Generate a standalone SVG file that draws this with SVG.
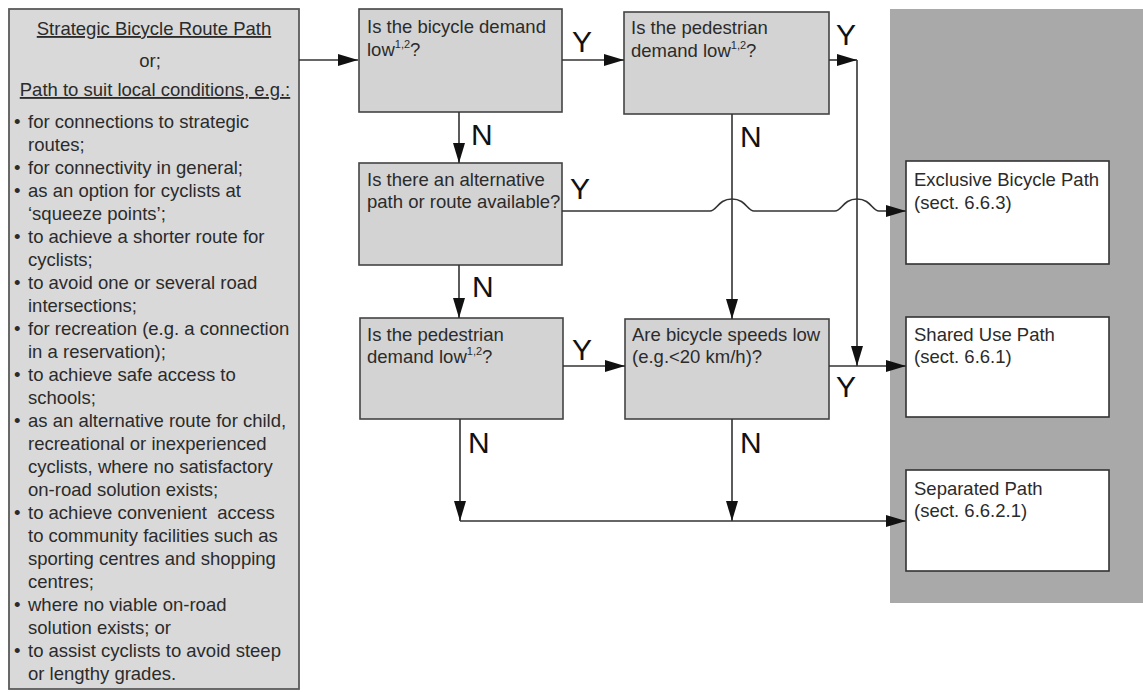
<svg xmlns="http://www.w3.org/2000/svg" width="1143" height="692" viewBox="0 0 1143 692">
<style>
.t{font-family:"Liberation Sans",Arial,Helvetica,sans-serif;font-size:18.5px;fill:#2b2b2b}
.yn{font-family:"Liberation Sans",Arial,Helvetica,sans-serif;font-size:30px;fill:#111}
.sup{font-size:11px}
.src{fill:#d9d9d9;stroke:#5a5a5a;stroke-width:1.8}
.dec{fill:#d3d3d3;stroke:#444;stroke-width:1.6}
.out{fill:#ffffff;stroke:#333;stroke-width:1.6}
.c{fill:none;stroke:#333;stroke-width:1.6}
.ul{text-decoration:underline}
</style>
<defs>
<marker id="ah" markerUnits="userSpaceOnUse" markerWidth="20" markerHeight="12" refX="20" refY="6" orient="auto">
<path d="M0,0 L20,6 L0,12 Z" fill="#111"/>
</marker>
</defs>
<rect width="1143" height="692" fill="#ffffff"/>
<rect id="panel" x="890" y="9" width="253" height="594" fill="#a9a9a9"/>

<g id="source">
<rect class="src" x="9" y="9" width="290" height="680"/>
<text class="t ul" x="154" y="35" text-anchor="middle">Strategic Bicycle Route Path</text>
<text class="t" x="150" y="67" text-anchor="middle">or;</text>
<text class="t ul" x="155" y="96" text-anchor="middle">Path to suit local conditions, e.g.:</text>
<g class="t">
<text x="14" y="128">•</text><text x="28" y="128">for connections to strategic</text>
<text x="28" y="151">routes;</text>
<text x="14" y="174">•</text><text x="28" y="174">for connectivity in general;</text>
<text x="14" y="197">•</text><text x="28" y="197">as an option for cyclists at</text>
<text x="28" y="220">‘squeeze points’;</text>
<text x="14" y="243">•</text><text x="28" y="243">to achieve a shorter route for</text>
<text x="28" y="266">cyclists;</text>
<text x="14" y="289">•</text><text x="28" y="289">to avoid one or several road</text>
<text x="28" y="312">intersections;</text>
<text x="14" y="335">•</text><text x="28" y="335">for recreation (e.g. a connection</text>
<text x="28" y="358">in a reservation);</text>
<text x="14" y="381">•</text><text x="28" y="381">to achieve safe access to</text>
<text x="28" y="404">schools;</text>
<text x="14" y="427">•</text><text x="28" y="427">as an alternative route for child,</text>
<text x="28" y="450">recreational or inexperienced</text>
<text x="28" y="473">cyclists, where no satisfactory</text>
<text x="28" y="496">on-road solution exists;</text>
<text x="14" y="519">•</text><text x="28" y="519" xml:space="preserve">to achieve convenient  access</text>
<text x="28" y="542">to community facilities such as</text>
<text x="28" y="565">sporting centres and shopping</text>
<text x="28" y="588">centres;</text>
<text x="14" y="611">•</text><text x="28" y="611">where no viable on-road</text>
<text x="28" y="634">solution exists; or</text>
<text x="14" y="657">•</text><text x="28" y="657">to assist cyclists to avoid steep</text>
<text x="28" y="680">or lengthy grades.</text>
</g>
</g>

<g id="q1">
<rect class="dec" x="359" y="9" width="203" height="103"/>
<text class="t" x="367" y="33">Is the bicycle demand</text>
<text class="t" x="367" y="56">low<tspan class="sup" dy="-8">1,2</tspan><tspan dy="8">?</tspan></text>
</g>
<g id="q2">
<rect class="dec" x="624" y="12" width="205" height="102"/>
<text class="t" x="631" y="34">Is the pedestrian</text>
<text class="t" x="631" y="57">demand low<tspan class="sup" dy="-8">1,2</tspan><tspan dy="8">?</tspan></text>
</g>
<g id="q3">
<rect class="dec" x="359" y="163" width="203" height="102"/>
<text class="t" x="367" y="186">Is there an alternative</text>
<text class="t" x="367" y="208">path or route available?</text>
</g>
<g id="q4">
<rect class="dec" x="360" y="318" width="203" height="101"/>
<text class="t" x="367" y="341">Is the pedestrian</text>
<text class="t" x="367" y="363">demand low<tspan class="sup" dy="-8">1,2</tspan><tspan dy="8">?</tspan></text>
</g>
<g id="q5">
<rect class="dec" x="625" y="319" width="204" height="100"/>
<text class="t" x="632" y="341">Are bicycle speeds low</text>
<text class="t" x="632" y="363">(e.g.&lt;20 km/h)?</text>
</g>

<g id="exclusive">
<rect class="out" x="906" y="161" width="203" height="103"/>
<text class="t" x="914" y="186">Exclusive Bicycle Path</text>
<text class="t" x="914" y="209">(sect. 6.6.3)</text>
</g>
<g id="shared">
<rect class="out" x="906" y="317" width="203" height="100"/>
<text class="t" x="914" y="341">Shared Use Path</text>
<text class="t" x="914" y="363">(sect. 6.6.1)</text>
</g>
<g id="separated">
<rect class="out" x="906" y="470" width="203" height="101"/>
<text class="t" x="914" y="495">Separated Path</text>
<text class="t" x="914" y="517">(sect. 6.6.2.1)</text>
</g>

<g id="connectors" class="c">
<path d="M299,60 H358" marker-end="url(#ah)"/>
<path d="M562,60 H624" marker-end="url(#ah)"/>
<path d="M459,112 V163" marker-end="url(#ah)"/>
<path d="M459,265 V318" marker-end="url(#ah)"/>
<path d="M563,366 H625" marker-end="url(#ah)"/>
<path d="M732,114 V319" marker-end="url(#ah)"/>
<path d="M829,60 H857" marker-end="url(#ah)"/>
<path d="M857,60 V366" marker-end="url(#ah)"/>
<path d="M829,366 H906" marker-end="url(#ah)"/>
<path d="M562,211 H710 C717,211 718,199 732,199 C746,199 747,211 754,211 H835 C842,211 843,199 857,199 C871,199 872,211 879,211 H906" marker-end="url(#ah)"/>
<path d="M460,419 V521" marker-end="url(#ah)"/>
<path d="M732,419 V521" marker-end="url(#ah)"/>
<path d="M460,521 H906" marker-end="url(#ah)"/>
</g>

<g id="labels" class="yn">
<text x="572" y="52">Y</text>
<text x="836" y="45">Y</text>
<text x="471" y="145">N</text>
<text x="740" y="147">N</text>
<text x="570" y="199">Y</text>
<text x="472" y="297">N</text>
<text x="572" y="360">Y</text>
<text x="836" y="397">Y</text>
<text x="468" y="453">N</text>
<text x="740" y="453">N</text>
</g>
</svg>
